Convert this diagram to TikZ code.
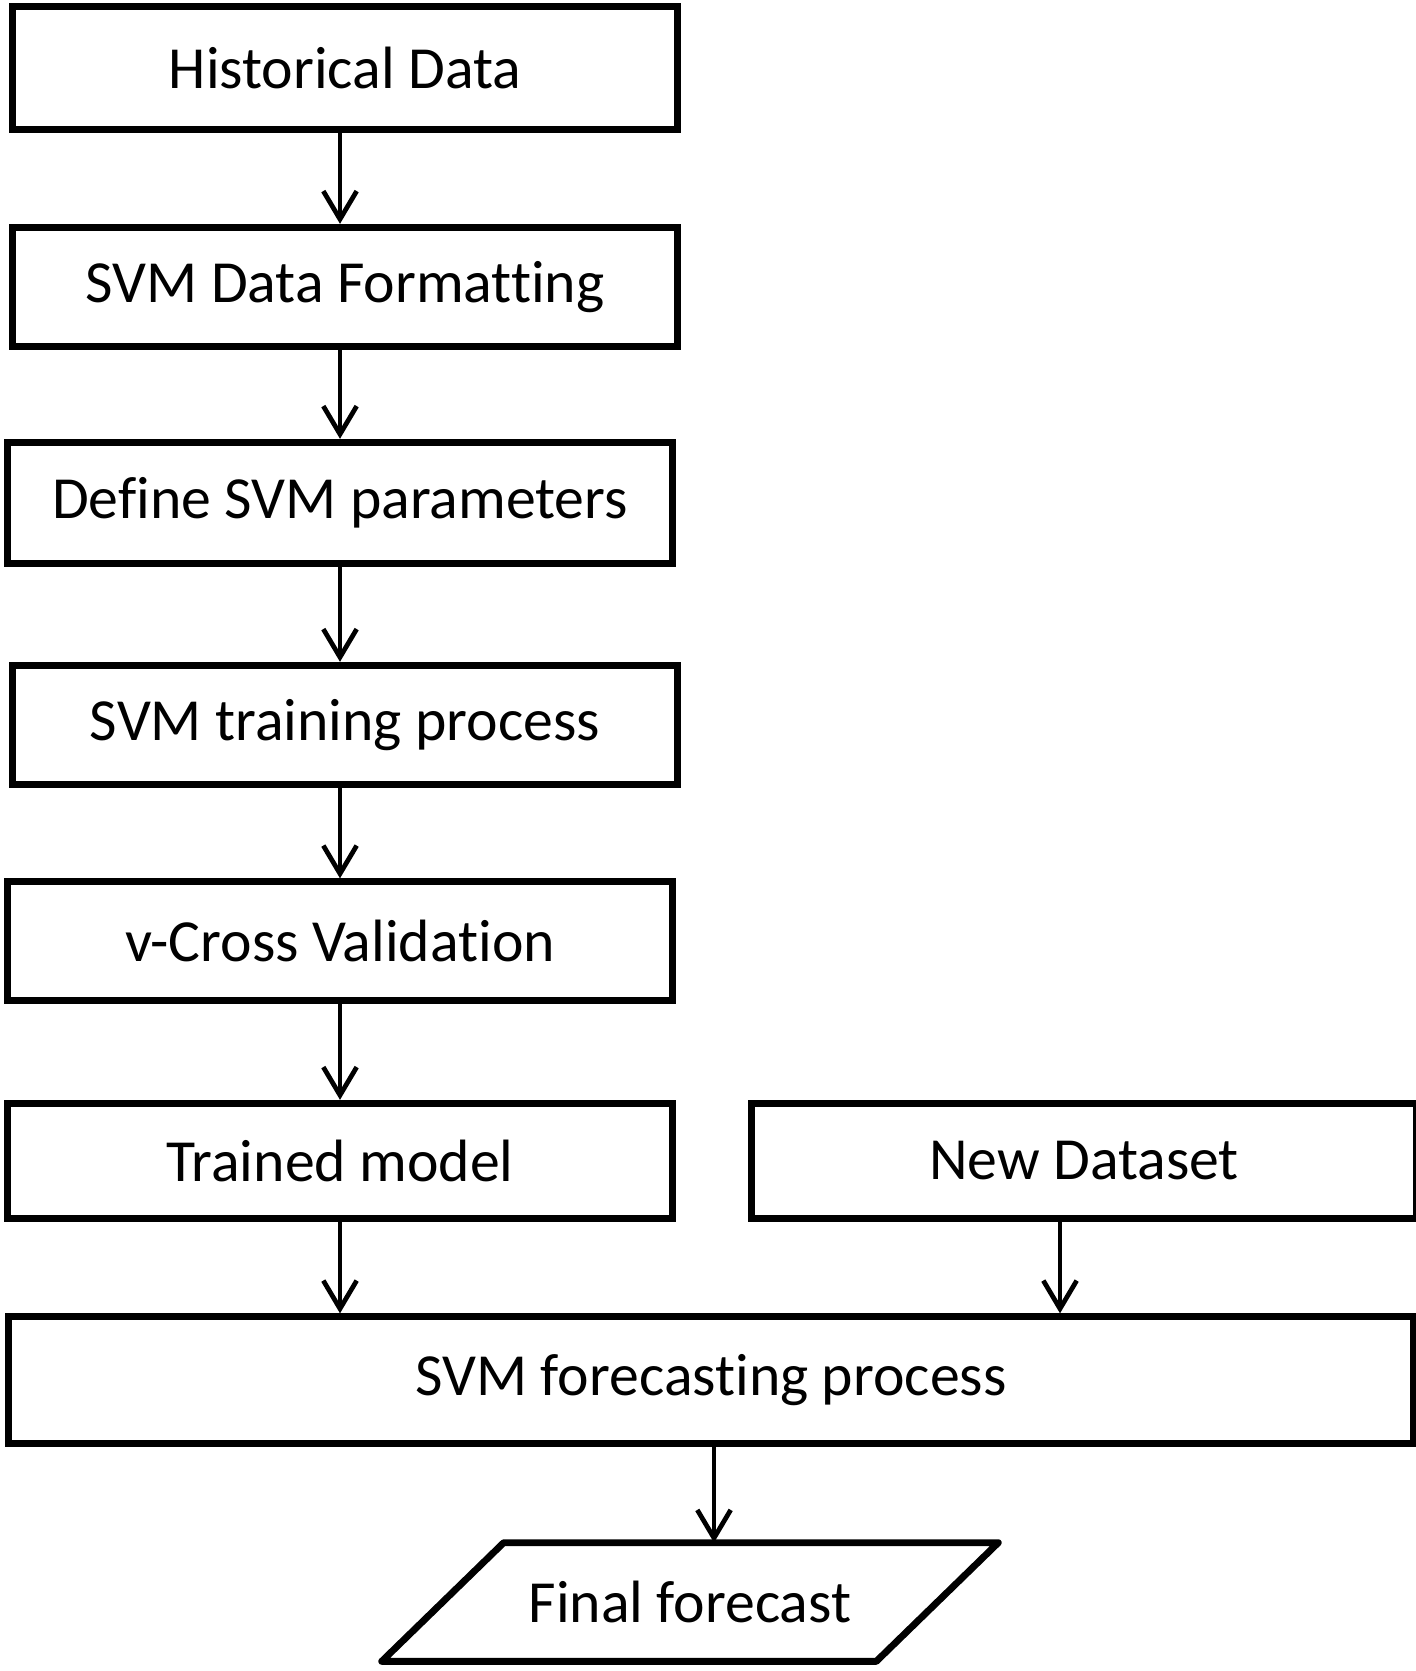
\documentclass[tikz,border=0pt]{standalone}
\usepackage{fontspec}
\setmainfont{Carlito}[Ligatures=NoCommon]
\usetikzlibrary{positioning,arrows.meta}

\begin{document}
\begin{tikzpicture}[x=0.02cm,y=-0.02cm,
	every node/.style={font=\fontsize{34}{41}\selectfont},
	stepbox/.style={draw,line width=3.9pt,minimum width=13.3cm,minimum height=2.4cm},
	outline/.style={line width=3.9pt,line join=round},
	conn/.style={line width=2.7pt,-{Straight Barb[length=16pt,width=19pt,line width=2.7pt]}}]
	
	\useasboundingbox (0,0) rectangle (1416,1671);
	
	%% left column
	\node[stepbox,minimum height=2.45cm] (hist) at (345,68) {Historical Data};
	\node[stepbox,minimum height=2.39cm] (format) at (345,287) {SVM Data Formatting};
	\node[stepbox,minimum height=2.43cm] (define) at (340,503) {Define SVM parameters};
	\node[stepbox,minimum height=2.39cm] (train) at (345,725) {SVM training process};
	\node[stepbox,minimum height=2.37cm] (cross) at (340,941) {v-Cross Validation};
	\node[stepbox,minimum height=2.31cm] (trained) at (340,1161) {Trained model};
	
	%% right input
	\node[stepbox,minimum height=2.31cm] (newdata) at (1084,1161) {New Dataset};
	
	%% forecasting
	\node[stepbox,minimum width=28.09cm,minimum height=2.53cm] (forecast) at (711,1380) {SVM forecasting process};
	\node[minimum width=12.32cm,minimum height=2.36cm] (final) at (690,1602) {Final forecast};
	\draw[outline] (final.south west) -- ([xshift=2.44cm]final.north west) -- (final.north east)
		-- ([xshift=-2.44cm]final.south east) -- cycle;
	
	\draw[conn] (hist.south -| trained) -- (format.north -| trained);
	\draw[conn] (format.south -| trained) -- (define.north -| trained);
	\draw[conn] (define.south -| trained) -- (train.north -| trained);
	\draw[conn] (train.south -| trained) -- (cross.north -| trained);
	\draw[conn] (cross) -- (trained);
	\draw[conn] (trained.south) -- (trained.south |- forecast.north);
	\draw[conn] ([xshift=-0.48cm]newdata.south) -- ([xshift=-0.48cm]newdata.south |- forecast.north);
	\draw[conn] ([xshift=0.06cm]forecast.south) -- ([xshift=0.06cm]forecast.south |- final.north);
	
\end{tikzpicture}
\end{document}
